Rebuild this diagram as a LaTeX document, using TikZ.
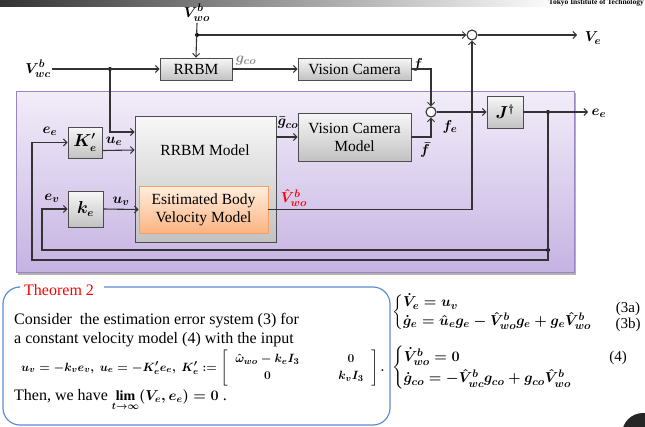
\documentclass[tikz,border=0pt]{standalone}
\usepackage{amsmath}
\usepackage{bm}
\usepackage{fontspec}
\setmainfont{Liberation Serif}
\usetikzlibrary{arrows.meta,calc}
\definecolor{purpTop}{HTML}{F2EDF9}
\definecolor{purpBot}{HTML}{C5B3E2}
\definecolor{purpLine}{HTML}{9A85C2}
\definecolor{grayTop}{HTML}{F7F7F7}
\definecolor{grayBot}{HTML}{C2C2C2}
\definecolor{orTop}{HTML}{FFEEDF}
\definecolor{orBot}{HTML}{FBB482}
\definecolor{orLine}{HTML}{F4A063}
\definecolor{thmblue}{HTML}{5C8ED0}
\definecolor{wire}{HTML}{333333}
\tikzset{
  blk/.style={draw=black!70, line width=0.9pt, top color=grayTop, bottom color=grayBot,
    inner sep=0pt, font=\fontsize{15.5}{18}\selectfont, align=center},
  wirestyle/.style={draw=wire, line width=1.1pt},
  arr/.style={wirestyle, -{Straight Barb[length=3.5pt,width=7pt,line width=1pt]}},
  sumc/.style={circle, draw=wire, line width=1.1pt, fill=white, minimum size=10pt, inner sep=0pt},
  jdot/.style={circle, fill=black, minimum size=4pt, inner sep=0pt},
  lab/.style={font=\boldmath\fontsize{15}{17}\selectfont, inner sep=1pt},
  txt/.style={font=\fontsize{16}{18}\selectfont, anchor=west, inner sep=0pt},
  eqs/.style={anchor=west, inner sep=0pt, font=\boldmath\fontsize{15.3}{17}\selectfont},
  tagt/.style={font=\fontsize{15}{17}\selectfont, inner sep=0pt},
}
\begin{document}
\begin{tikzpicture}[x=1pt,y=-1pt]
\useasboundingbox (0,0) rectangle (645,426);
\begin{scope}
\clip (0,0) rectangle (645,426);
% top bar
\shade[left color=black!80, right color=white] (0,0) rectangle (560,6);
\node[font=\bfseries\fontsize{7.5}{8}\selectfont, anchor=east, inner sep=0pt] (inst) at (644,3) {Tokyo Institute of Technology};
% page mark
\fill[black!85] (643,434) circle (21);
\end{scope}

% purple box
\fill[black!30] (18,93) rectangle (576,275);
\shade[top color=purpTop, bottom color=purpBot] (16,91) rectangle (574,272);
\draw[purpLine, line width=0.9pt] (16,91) rectangle (574,272);

% nodes
\node[blk, minimum width=72pt, minimum height=22pt] (rrbm) at (196,69) {RRBM};
\node[blk, minimum width=113pt, minimum height=22pt] (vc) at (354.5,69) {Vision Camera};
\node[blk, minimum width=141pt, minimum height=126pt] (rm) at (205.5,179) {};
\node[font=\fontsize{15.5}{18}\selectfont] (rmt) at (205,150) {RRBM Model};
\node[blk, draw=orLine, top color=orTop, bottom color=orBot, minimum width=129pt, minimum height=47pt] (ebv) at (203.5,209.5) {Esitimated Body\\Velocity Model};
\node[blk, minimum width=113pt, minimum height=48pt] (vcm) at (354.5,137) {Vision Camera\\Model};
\node[blk, minimum width=34pt, minimum height=31pt, font=\boldmath\fontsize{16}{18}\selectfont] (K) at (85,142.5) {$\bm K'_e$};
\node[blk, minimum width=35pt, minimum height=36pt, font=\boldmath\fontsize{16}{18}\selectfont] (k) at (85.5,209) {$\bm k_e$};
\node[blk, minimum width=36pt, minimum height=32pt, font=\boldmath\fontsize{16}{18}\selectfont] (J) at (505,112) {$\bm J^{\dagger}$};
\node[sumc] (s1) at (431,112) {};
\node[sumc] (s2) at (472,35) {};
\node[jdot] (d1) at (197,35) {};
\node[jdot] (d2) at (110,69) {};
\node[jdot] (d3) at (548,112) {};
\node[jdot] (d4) at (548,250) {};

% labels
\node[lab] (lvwo) at (197,13) {$\bm V^b_{wo}$};
\node[lab] (lvwc) at (38,69) {$\bm V^b_{wc}$};
\node[lab] (lve) at (593,38) {$\bm V_e$};
\node[lab, text=black!45] (lgco) at (246,61) {$\bm g_{co}$};
\node[lab] (lf) at (418,65) {$\bm f$};
\node[lab] (lfe) at (450,127) {$\bm f_e$};
\node[lab] (lfb) at (425,150) {$\bar{\bm f}$};
\node[lab] (lee) at (599,113) {$\bm e_e$};
\node[lab] (lee2) at (50,131) {$\bm e_e$};
\node[lab] (lev) at (52,198) {$\bm e_v$};
\node[lab] (lue) at (114,141) {$\bm u_e$};
\node[lab] (luv) at (121,201) {$\bm u_v$};
\node[lab] (lgb) at (288,123) {$\bar{\bm g}_{co}$};
\node[lab, text=red] (lvh) at (294,198) {$\hat{\bm V}^b_{wo}$};
\coordinate (vwcstart) at (52,69);
\coordinate (vestop) at (577,35);
\coordinate (eeend) at (588,112);

% connectors
\draw[arr] (lvwo.south) -- (rrbm.north);
\draw[arr] (d1) -- (s2.west);
\draw[arr] (s2.east) -- (vestop);
\draw[arr] (vwcstart) -- (rrbm.west);
\draw[arr] (d2) |- ($(rm.west)+(0,-47)$);
\draw[arr] (rrbm.east) -- (vc.west);
\draw[arr] (vc.east) -| (s1.north);
\draw[arr] (vcm.east) -| (s1.south);
\draw[arr] (s1.east) -- (J.west);
\draw[arr] (J.east) -- (eeend);
\draw[arr] (d3) -- (548,260) -- (32,260) |- (K.west);
\draw[arr] (d4) -- (42,250) |- (k.west);
\draw[arr] ($(K.east)+(0,8)$) -- ($(rm.west)+(0,-29)$);
\draw[arr] (k.east) -- (ebv.west);
\draw[arr] (ebv.east) -| (s2.south);
\draw[arr] ($(rm.east)+(0,-42)$) -- (vcm.west);

% theorem box
\draw[thmblue, line width=1.2pt, rounded corners=17pt] (104,287) -- (390,287) -- (390,425) -- (3,425) -- (3,287) -- (18,287);
\node[font=\fontsize{16}{18}\selectfont, text=red, anchor=west, inner sep=0pt] (thm) at (24,290) {Theorem 2};
\node[txt] (t1) at (14,321) {Consider\ \ the estimation error system (3) for};
\node[txt] (t2) at (14,340) {a constant velocity model (4) with the input};
\node[txt, font=\boldmath\fontsize{13}{15}\selectfont] (t3) at (21,368)
  {$\bm u_v = -k_v \bm e_v,\ \bm u_e = -\bm K'_e \bm e_{e},\ \bm K'_e := \left[\begin{array}{@{\;\;}c@{\qquad\quad}c@{\;\;}}\hat{\bm\omega}_{wo} - k_e \bm I_3 & 0\\[2pt] 0 & k_v \bm I_3\end{array}\right].$};
\node[txt] (t4) at (14,400) {Then, we have {\boldmath\fontsize{14}{16}\selectfont$\lim\limits_{t\to\infty}(\bm V_e, \bm e_e) = 0$} .};

% equations
\node[eqs] (eq3) at (392,312)
  {$\left\{\begin{array}{@{}l@{}}\dot{\bm V}_e = \bm u_v\\ \dot{\bm g}_e = \hat{\bm u}_e \bm g_e - \hat{\bm V}^b_{wo}\bm g_e + \bm g_e\hat{\bm V}^b_{wo}\end{array}\right.$};
\node[eqs] (eq4) at (392,368)
  {$\left\{\begin{array}{@{}l@{}}\dot{\bm V}^b_{wo} = 0\\[3pt] \dot{\bm g}_{co} = -\hat{\bm V}^b_{wc}\bm g_{co} + \bm g_{co}\hat{\bm V}^b_{wo}\end{array}\right.$};
\node[tagt] (tag3a) at (628,309) {(3a)};
\node[tagt] (tag3b) at (628,325) {(3b)};
\node[tagt] (tag4) at (618,358) {(4)};
\end{tikzpicture}
\end{document}
